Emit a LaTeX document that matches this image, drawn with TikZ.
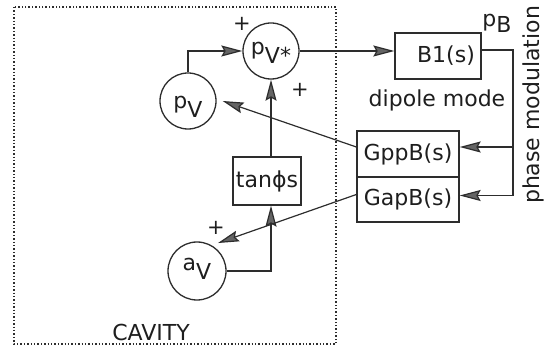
\documentclass[tikz,border=0pt]{standalone}
\usepackage{fontspec}
\setmainfont{DejaVu Sans}
\usetikzlibrary{arrows.meta,positioning,calc}
\definecolor{linecolor}{RGB}{45,45,45}
\definecolor{textcolor}{RGB}{30,30,30}
\definecolor{tipcolor}{RGB}{100,100,100}
\newcommand{\circtext}[2]{\raisebox{#1}[0pt][0pt]{#2}}
\newcommand{\lowered}[1]{\raisebox{-9pt}{#1}}
\tikzset{
    block/.style={
        rectangle,
        draw=linecolor,
        line width=1.3pt,
        inner sep=0pt,
        text=textcolor,
        font=\fontsize{22}{26}\selectfont
    },
    sumnode/.style={
        circle,
        draw=linecolor,
        line width=1.3pt,
        inner sep=0pt,
        text=textcolor,
        font=\fontsize{22}{26}\selectfont
    },
    plaintext/.style={font=\fontsize{22}{26}\selectfont, text=textcolor},
    sign/.style={font=\fontsize{21}{24}\selectfont, text=textcolor},
    link/.style={line width=1.2pt, draw=linecolor},
    arrow/.style={-{Stealth[length=21pt,width=11pt,inset=3pt,fill=tipcolor]}, line width=1.2pt, draw=linecolor},
    cavity/.style={draw=linecolor, line width=1.4pt, dotted}
}
\begin{document}
\begin{tikzpicture}[x=1pt,y=-1pt]
    \useasboundingbox (0,0) rectangle (549,347);

    % Cavity
    \draw[cavity] (14,7) rectangle (336,344);
    \node[plaintext, anchor=base] (cavitylabel) at (151,341) {CAVITY};

    % Phases
    \node[sumnode, minimum size=56pt] (pvstar) at (271,51) {\circtext{-4pt}{p\lowered{V*}}};
    \node[sumnode, minimum size=56pt] (pv) at (188,101) {\circtext{-8pt}{p\lowered{V}}};
    \node[sumnode, minimum size=58pt] (av) at (197,271) {\circtext{0pt}{a\lowered{V}}};
    \node[block, minimum width=68pt, minimum height=48pt] (tan) at (267,181) {tan\char"03D5 s};

    % Beam
    \node[block, minimum width=86pt, minimum height=46pt] (b1) at (438,56) {\hspace{16pt}B1(s)};
    \node[block, minimum width=102pt, minimum height=46pt] (gpp) at (408,154) {GppB(s)};
    \node[block, minimum width=102pt, minimum height=45pt] (gap) at (408,199.5) {GapB(s)};
    \node[plaintext] (dipole) at (437,100) {dipole mode};
    \node[plaintext] (pblabel) at (497,23) {p\raisebox{-6pt}{B}};
    \node[plaintext, rotate=90] (phasemod) at (533,105) {phase modulation};

    % Signs
    \node[sign] (plusa) at (242,24) {+};
    \node[sign] (plusb) at (300,90) {+};
    \node[sign] (plusc) at (216,228) {+};

    % Arrows
    \coordinate (fbtop) at (513,50);
    \coordinate (gppin) at ([yshift=7pt]gpp.east);
    \coordinate (gapin) at ([yshift=4pt]gap.east);
    \coordinate (gppout) at ([yshift=7pt]gpp.west);
    \coordinate (gapout) at ([yshift=5pt]gap.west);
    \draw[arrow] (pv.north) |- (pvstar.west);
    \draw[arrow] (pvstar.south |- tan.north) -- (pvstar.south);
    \draw[arrow] (av.east) -| (pvstar.south |- tan.south);
    \draw[arrow] (pvstar.east) -- (pvstar.east -| b1.west);
    \draw[arrow] (b1.east |- fbtop) -- (fbtop) |- (gapin);
    \draw[arrow] (fbtop |- gppin) -- (gppin);
    \draw[arrow] (gppout) -- ([xshift=6pt]pv.east);
    \draw[arrow] (gapout) -- ([yshift=7pt]av.north east);
\end{tikzpicture}
\end{document}
